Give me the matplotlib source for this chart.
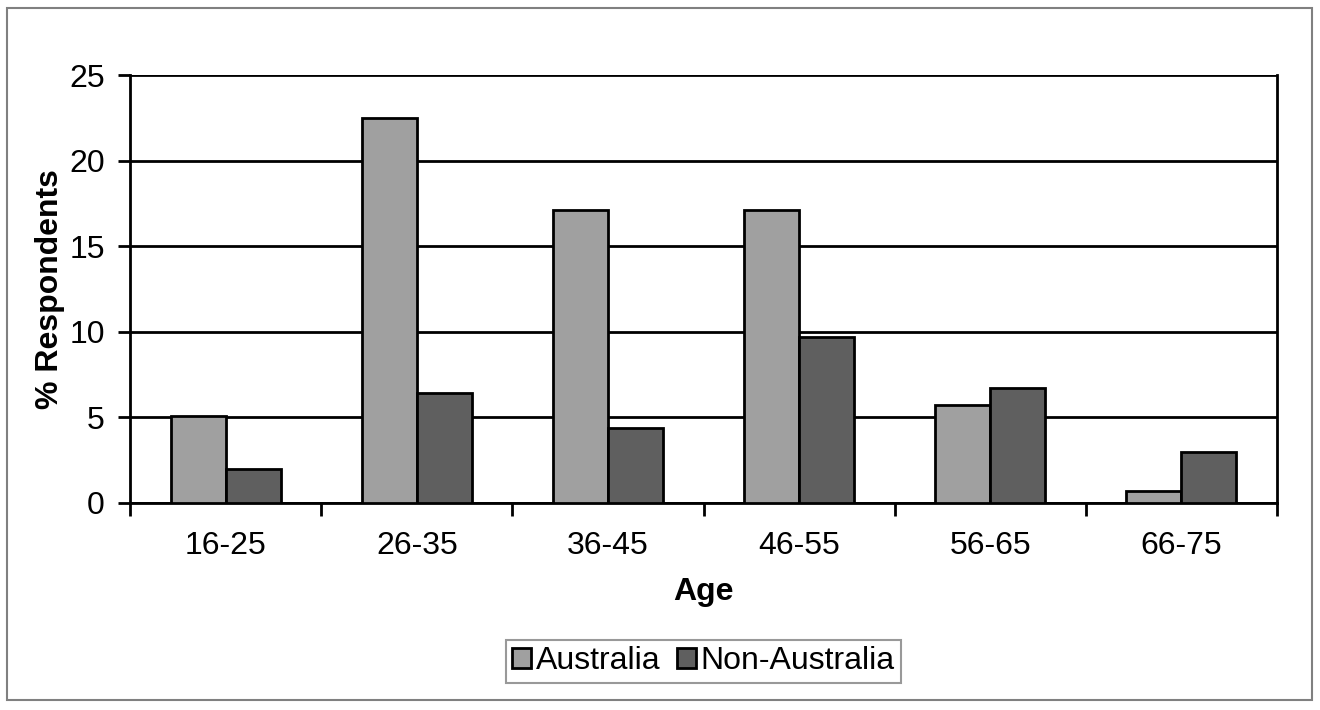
import numpy as np
import matplotlib.pyplot as plt
from matplotlib.patches import Rectangle

plt.rcParams['font.family'] = ['Liberation Sans', 'DejaVu Sans']

ages = ['16-25', '26-35', '36-45', '46-55', '56-65', '66-75']
australia = [5.1, 22.5, 17.1, 17.1, 5.7, 0.7]
non_australia = [2.0, 6.4, 4.4, 9.7, 6.7, 3.0]

fig = plt.figure(figsize=(13.2, 7.1), dpi=100)
ax = fig.add_axes([130/1320, 1-503/710, (1277-130)/1320, (503-75)/710])

# outer frame of the chart
fig.patches.append(Rectangle((7/1320, 1-700/710), (1312-7)/1320, (700-8)/710,
                             transform=fig.transFigure, fill=False,
                             edgecolor='#808080', linewidth=1.5))

x = np.arange(len(ages))
w = 0.2875
ax.bar(x - w/2, australia, w, color='#a0a0a0', edgecolor='black', linewidth=2,
       label='Australia', zorder=3)
ax.bar(x + w/2, non_australia, w, color='#5f5f5f', edgecolor='black', linewidth=2,
       label='Non-Australia', zorder=3)

ax.set_xlim(-0.5, len(ages) - 0.5)
ax.set_ylim(0, 25)
ax.set_yticks(range(0, 26, 5))
ax.yaxis.grid(True, color='black', linewidth=2, zorder=0)

# ticks at the category boundaries, labels at centres
ax.set_xticks(np.arange(-0.5, len(ages)), minor=False)
ax.set_xticklabels([])
ax.set_xticks(x, minor=True)
ax.set_xticklabels(ages, minor=True)
ax.tick_params(axis='x', which='minor', length=0, labelsize=23, pad=20)
ax.tick_params(axis='x', which='major', direction='out', length=9, width=2)
ax.tick_params(axis='y', direction='out', length=9, width=2, labelsize=23, pad=9)

ax.spines['top'].set_visible(False)
for s in ['left', 'right', 'bottom']:
    ax.spines[s].set_linewidth(2)

ax.set_xlabel('Age', fontsize=23, fontweight='bold', labelpad=12)
ax.set_ylabel('% Respondents', fontsize=23, fontweight='bold', labelpad=3)

leg = ax.legend(loc='upper center', bbox_to_anchor=(0.5, -0.32), ncol=2,
                fontsize=23, frameon=True, fancybox=False, handlelength=0.6,
                handleheight=0.6, handletextpad=0.15, columnspacing=0.5,
                borderpad=0.2, borderaxespad=0)
leg.get_frame().set_edgecolor('#808080')
leg.get_frame().set_linewidth(1.5)

fig.savefig('out.png', dpi=100)
